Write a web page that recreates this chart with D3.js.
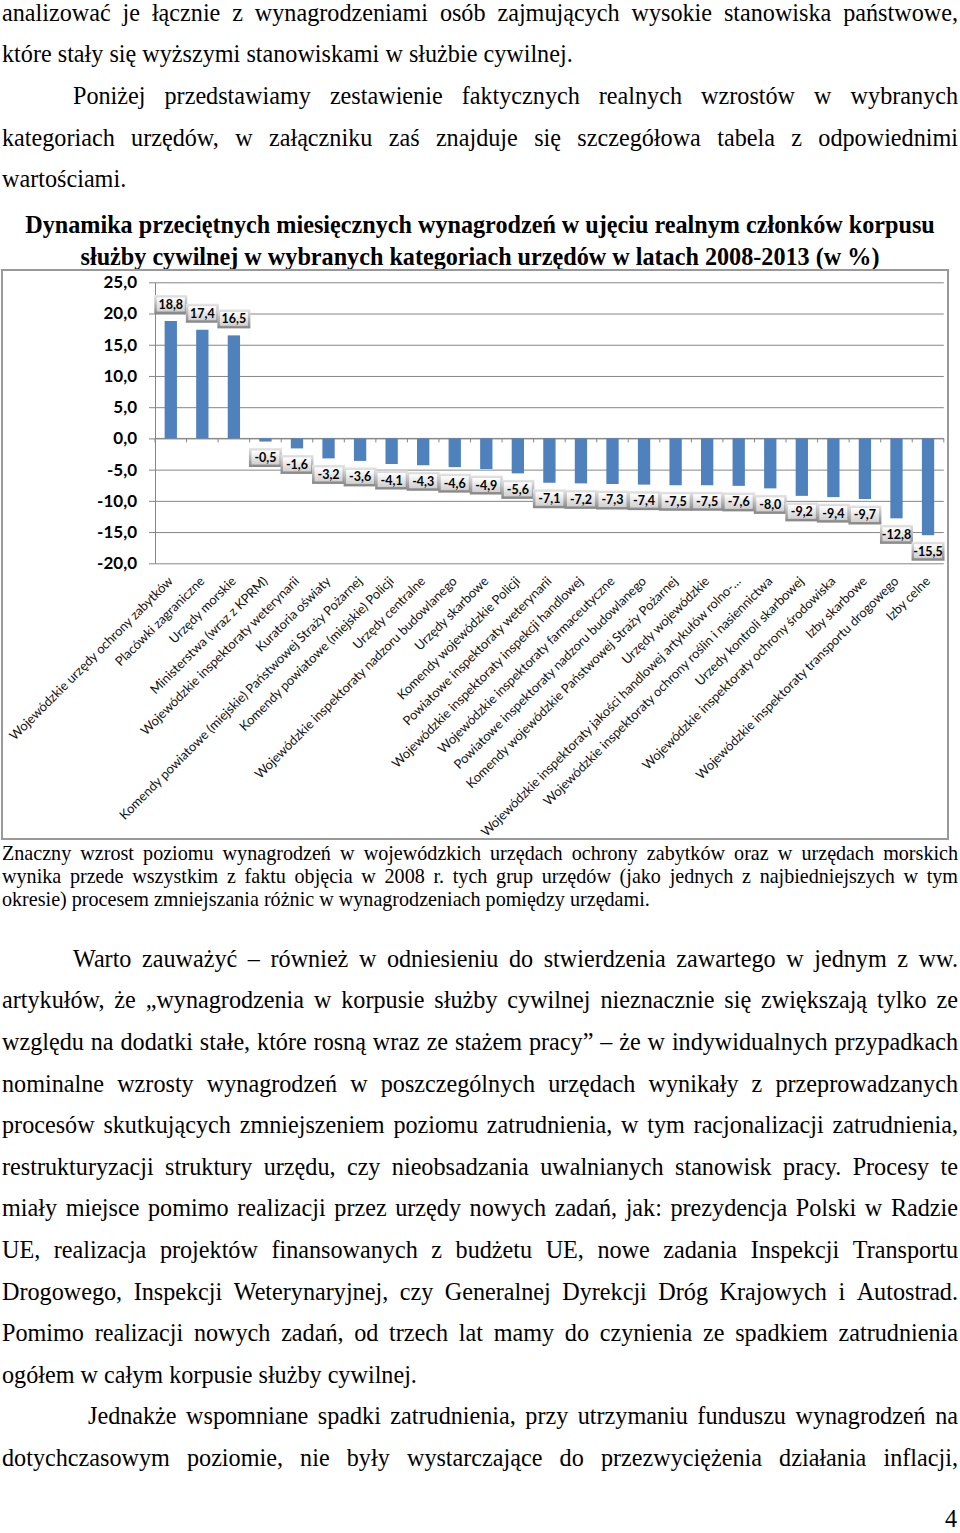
<!DOCTYPE html>
<html><head><meta charset="utf-8">
<script src="https://cdn.jsdelivr.net/npm/d3@7"></script>
<style>body{margin:0;background:#fff} svg{display:block}</style>
</head><body>
<svg id="page" width="960" height="1533"></svg>
<script>
// ---------- DATA ----------
const categories = [
 "Wojewódzkie urzędy ochrony zabytków",
 "Placówki zagraniczne",
 "Urzędy morskie",
 "Ministerstwa (wraz z KPRM)",
 "Wojewódzkie inspektoraty weterynarii",
 "Kuratoria oświaty",
 "Komendy powiatowe (miejskie) Państwowej Straży Pożarnej",
 "Komendy powiatowe (miejskie) Policji",
 "Urzędy centralne",
 "Wojewódzkie inspektoraty nadzoru budowlanego",
 "Urzędy skarbowe",
 "Komendy wojewódzkie Policji",
 "Powiatowe inspektoraty weterynarii",
 "Wojewódzkie inspektoraty inspekcji handlowej",
 "Wojewódzkie inspektoraty farmaceutyczne",
 "Powiatowe inspektoraty nadzoru budowlanego",
 "Komendy wojewódzkie Państwowej Straży Pożarnej",
 "Urzędy wojewódzkie",
 "Wojewódzkie inspektoraty jakości handlowej artykułów rolno-…",
 "Wojewódzkie inspektoraty ochrony roślin i nasiennictwa",
 "Urzedy kontroli skarbowej",
 "Wojewódzkie inspektoraty ochrony środowiska",
 "Izby skarbowe",
 "Wojewódzkie inspektoraty transportu drogowego",
 "Izby celne"
];
const values = [18.8, 17.4, 16.5, -0.5, -1.6, -3.2, -3.6, -4.1, -4.3, -4.6, -4.9, -5.6,
  -7.1, -7.2, -7.3, -7.4, -7.5, -7.5, -7.6, -8.0, -9.2, -9.4, -9.7, -12.8, -15.5];
const yTicks = [25, 20, 15, 10, 5, 0, -5, -10, -15, -20];

const titleLines = [
 "Dynamika przeciętnych miesięcznych wynagrodzeń w ujęciu realnym członków korpusu",
 "służby cywilnej w wybranych kategoriach urzędów w latach 2008-2013 (w %)"
];
// [text, indent, justified]
const topLines = [
 ["analizować je łącznie z wynagrodzeniami osób zajmujących wysokie stanowiska państwowe,", 0, true],
 ["które stały się wyższymi stanowiskami w służbie cywilnej.", 0, false],
 ["Poniżej przedstawiamy zestawienie faktycznych realnych wzrostów w wybranych", 71, true],
 ["kategoriach urzędów, w załączniku zaś znajduje się szczegółowa tabela z odpowiednimi", 0, true],
 ["wartościami.", 0, false]
];
const captionLines = [
 ["Znaczny wzrost poziomu wynagrodzeń w wojewódzkich urzędach ochrony zabytków oraz w urzędach morskich", 0, true],
 ["wynika przede wszystkim z faktu objęcia w 2008 r. tych grup urzędów (jako jednych z najbiedniejszych w tym", 0, true],
 ["okresie) procesem zmniejszania różnic w wynagrodzeniach pomiędzy urzędami.", 0, false]
];
const bottomLines = [
 ["Warto zauważyć – również w odniesieniu do stwierdzenia zawartego w jednym z ww.", 71, true],
 ["artykułów, że „wynagrodzenia w korpusie służby cywilnej nieznacznie się zwiększają tylko ze", 0, true],
 ["względu na dodatki stałe, które rosną wraz ze stażem pracy” – że w indywidualnych przypadkach", 0, true],
 ["nominalne wzrosty wynagrodzeń w poszczególnych urzędach wynikały z przeprowadzanych", 0, true],
 ["procesów skutkujących zmniejszeniem poziomu zatrudnienia, w tym racjonalizacji zatrudnienia,", 0, true],
 ["restrukturyzacji struktury urzędu, czy nieobsadzania uwalnianych stanowisk pracy. Procesy te", 0, true],
 ["miały miejsce pomimo realizacji przez urzędy nowych zadań, jak: prezydencja Polski w Radzie", 0, true],
 ["UE, realizacja projektów finansowanych z budżetu UE, nowe zadania Inspekcji Transportu", 0, true],
 ["Drogowego, Inspekcji Weterynaryjnej, czy Generalnej Dyrekcji Dróg Krajowych i Autostrad.", 0, true],
 ["Pomimo realizacji nowych zadań, od trzech lat mamy do czynienia ze spadkiem zatrudnienia", 0, true],
 ["ogółem w całym korpusie służby cywilnej.", 0, false],
 ["Jednakże wspomniane spadki zatrudnienia, przy utrzymaniu funduszu wynagrodzeń na", 86, true],
 ["dotychczasowym poziomie, nie były wystarczające do przezwyciężenia działania inflacji,", 0, true]
];

// ---------- SETUP ----------
const svg = d3.select('#page');
const SERIF = "'Liberation Serif','Times New Roman',Times,serif";
const SANS = "Lato,'Open Sans',sans-serif";

function measure(str, family, size, weight) {
  const t = svg.append('text').attr('font-family', family).attr('font-size', size)
    .attr('font-weight', weight || 'normal').text(str);
  const w = t.node().getComputedTextLength();
  t.remove();
  return w;
}

function drawLine(str, x0, x1, base, family, size, weight, justify) {
  const words = str.split(' ');
  const widths = words.map(w => measure(w, family, size, weight));
  let gap = measure('a a', family, size, weight) - measure('aa', family, size, weight);
  const total = d3.sum(widths);
  if (justify && words.length > 1) gap = (x1 - x0 - total) / (words.length - 1);
  let x = x0;
  words.forEach((w, i) => {
    svg.append('text').attr('x', x).attr('y', base)
      .attr('font-family', family).attr('font-size', size).attr('font-weight', weight || 'normal')
      .attr('fill', '#000').text(w);
    x += widths[i] + gap;
  });
}

// calibrated sizes
const bodySize = 24 * 571 / measure(topLines[1][0], SERIF, 24);
const capSize = 20 * 648 / measure(captionLines[2][0], SERIF, 20);
const titleSize = 24 * 910 / measure(titleLines[0], SERIF, 24, 'bold');

const L = 2, R = 958, LS = 41.6;
topLines.forEach((d, i) => drawLine(d[0], L + d[1], R, 20.7 + i * LS, SERIF, bodySize, 'normal', d[2]));

titleLines.forEach((t, i) => {
  svg.append('text').attr('x', 480).attr('y', 232.5 + i * 32).attr('text-anchor', 'middle')
    .attr('font-family', SERIF).attr('font-size', titleSize).attr('font-weight', 'bold').text(t);
});

captionLines.forEach((d, i) => drawLine(d[0], L + d[1], R, 860 + i * 23, SERIF, capSize, 'normal', d[2]));
bottomLines.forEach((d, i) => drawLine(d[0], L + d[1], R, 966.7 + i * LS, SERIF, bodySize, 'normal', d[2]));

svg.append('text').attr('x', 957).attr('y', 1527).attr('text-anchor', 'end')
  .attr('font-family', SERIF).attr('font-size', bodySize).text('4');

// ---------- CHART ----------
const defs = svg.append('defs');
const gOut = defs.append('linearGradient').attr('id', 'boxOut').attr('x1', 0).attr('y1', 0).attr('x2', 0).attr('y2', 1);
gOut.append('stop').attr('offset', '0%').attr('stop-color', '#e6e6e6');
gOut.append('stop').attr('offset', '100%').attr('stop-color', '#858585');
const gIn = defs.append('linearGradient').attr('id', 'boxIn').attr('x1', 0).attr('y1', 0).attr('x2', 0).attr('y2', 1);
gIn.append('stop').attr('offset', '0%').attr('stop-color', '#ffffff');
gIn.append('stop').attr('offset', '100%').attr('stop-color', '#cfcfcf');

// frame
svg.append('rect').attr('x', 2).attr('y', 270).attr('width', 946).attr('height', 569)
  .attr('fill', 'none').attr('stroke', '#999').attr('stroke-width', 2);

const x = d3.scaleBand().domain(categories).range([155, 943.8]).paddingInner(0.61).paddingOuter(0.305);
const y = d3.scaleLinear().domain([-20, 25]).range([563.3, 282.3]);
const loc = d3.formatLocale({decimal: ",", thousands: " ", grouping: [3], currency: ["", " zł"], minus: "-"});
const fmt = loc.format(".1f");

// gridlines + y axis
const yAxis = d3.axisLeft(y).tickValues(yTicks).tickSize(-(943.8 - 155)).tickSizeOuter(0).tickFormat(fmt).tickPadding(18);
const ya = svg.append('g').attr('transform', 'translate(155,0)').call(yAxis);
ya.select('.domain').attr('stroke', '#868686');
ya.selectAll('.tick line').attr('stroke', '#868686').attr('x1', -6);
ya.selectAll('.tick text').attr('font-family', SANS).attr('font-weight', 'bold').attr('font-size', 17).attr('fill', '#000');

// category axis at zero
const xa = svg.append('g').attr('transform', `translate(0,${y(0)})`);
xa.append('line').attr('x1', 155).attr('x2', 943.8).attr('stroke', '#868686');
const bounds = d3.range(categories.length + 1).map(i => 155 + i * x.step());
xa.selectAll('line.tk').data(bounds).join('line').attr('class', 'tk')
  .attr('x1', d => d).attr('x2', d => d).attr('y1', 0).attr('y2', 4).attr('stroke', '#868686');

// bars
svg.append('g').selectAll('rect').data(values).join('rect')
  .attr('x', (d, i) => x(categories[i]))
  .attr('width', x.bandwidth())
  .attr('y', d => y(Math.max(0, d)))
  .attr('height', d => Math.abs(y(d) - y(0)))
  .attr('fill', '#4F81BD');

// data labels
const bw = 33, bh = 19;
const lab = svg.append('g').selectAll('g').data(values).join('g')
  .attr('transform', (d, i) => {
    const cx = x(categories[i]) + x.bandwidth() / 2;
    const top = d >= 0 ? y(d) - 7 - bh : y(d) + 6.5;
    return `translate(${cx - bw / 2},${top})`;
  });
lab.append('rect').attr('width', bw).attr('height', bh).attr('fill', 'url(#boxOut)');
lab.append('rect').attr('x', 2.5).attr('y', 2.5).attr('width', bw - 5).attr('height', bh - 5).attr('fill', 'url(#boxIn)');
lab.append('text').attr('x', bw / 2).attr('y', bh / 2).attr('dy', '0.36em').attr('text-anchor', 'middle')
  .attr('font-family', SANS).attr('font-weight', 'bold').attr('font-size', 12.5).attr('fill', '#000')
  .text(d => fmt(d));

// category labels
const labSize = 13 * 225 / measure(categories[0], SANS, 13);
svg.append('g').selectAll('text').data(categories).join('text')
  .attr('transform', c => `translate(${x(c) + x.bandwidth() / 2 + 3},${582}) rotate(-45)`)
  .attr('text-anchor', 'end')
  .attr('font-family', SANS).attr('font-size', labSize).attr('fill', '#111')
  .text(c => c);
</script>
</body></html>
